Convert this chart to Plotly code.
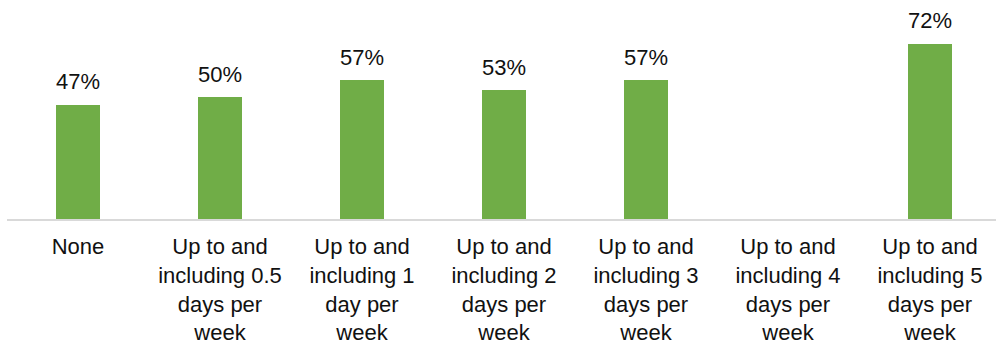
import plotly.graph_objects as go

categories = [
    "None",
    "Up to and<br>including 0.5<br>days per<br>week",
    "Up to and<br>including 1<br>day per<br>week",
    "Up to and<br>including 2<br>days per<br>week",
    "Up to and<br>including 3<br>days per<br>week",
    "Up to and<br>including 4<br>days per<br>week",
    "Up to and<br>including 5<br>days per<br>week",
]
values = [47, 50, 57, 53, 57, None, 72]

FONT = "Liberation Sans, Arial, sans-serif"
GREEN = "#70AD47"
TEXT = "#111111"

fig = go.Figure(
    go.Bar(
        x=list(range(len(categories))),
        y=values,
        marker=dict(color=GREEN, line=dict(width=0)),
        width=0.31,
        hoverinfo="skip",
    )
)

# value labels above each bar
for i, v in enumerate(values):
    if v is None:
        continue
    fig.add_annotation(
        x=i, y=v, text=f"{v}%", showarrow=False,
        yanchor="middle", yshift=23,
        font=dict(family=FONT, size=22, color=TEXT),
    )

fig.update_layout(
    width=996, height=347,
    margin=dict(l=7, r=0, t=0, b=128),
    paper_bgcolor="white", plot_bgcolor="white",
    showlegend=False,
    bargap=0,
    font=dict(family=FONT, size=22, color=TEXT),
)
fig.update_xaxes(
    tickmode="array",
    tickvals=list(range(len(categories))),
    ticktext=categories,
    range=[-0.5, 6.465],
    showline=True, linecolor="#D9D9D9", linewidth=2,
    showgrid=False, zeroline=False, ticks="",
    tickangle=0,
    ticklabelstandoff=7,
    tickfont=dict(family=FONT, size=22, color=TEXT),
)
fig.update_yaxes(
    range=[0, 90.1], visible=False, showgrid=False, zeroline=False,
)

fig.write_html("out.html")
